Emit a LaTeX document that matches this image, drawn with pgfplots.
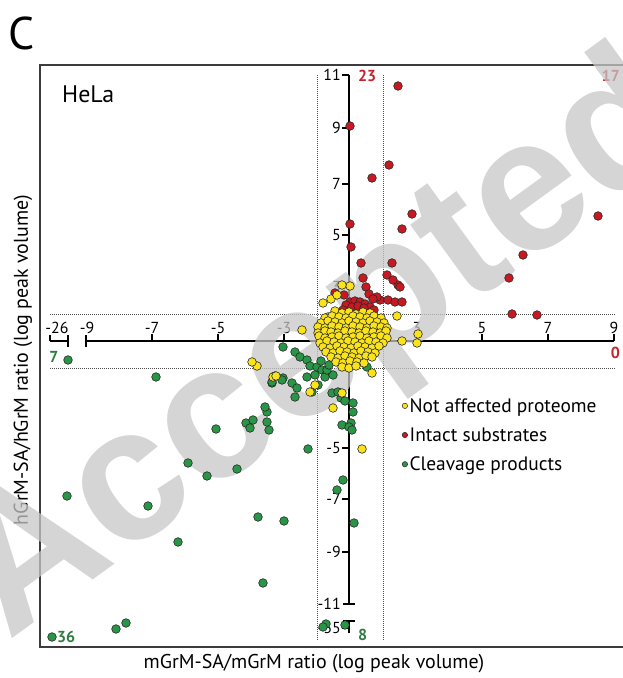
\documentclass[border=0pt]{standalone}
\usepackage{pgfplots}
\pgfplotsset{compat=1.18}
\usepackage{fontspec}
\setmainfont{PT Sans}
\newfontfamily\wmfont{Liberation Sans}
\definecolor{yel}{RGB}{250,228,25}
\definecolor{redpt}{RGB}{200,25,35}
\definecolor{grnpt}{RGB}{40,150,70}
\definecolor{lblred}{RGB}{195,35,45}
\definecolor{lblgrn}{RGB}{45,125,65}
\definecolor{frame}{RGB}{60,60,60}
\tikzset{
  tk/.style={line width=1.2bp},
  ax/.style={line width=1.4bp},
  dt/.style={gray!60!black, line width=0.9bp, dash pattern=on 0.9bp off 1.1bp},
  tl/.style={inner sep=1bp, font=\fontsize{16}{16}\selectfont},
  cnt/.style={inner sep=0pt, font=\bfseries\fontsize{16}{16}\selectfont},
}
\begin{document}
\begin{tikzpicture}
\begin{axis}[x=1bp,y=1bp,xmin=-349,xmax=274,ymin=-337,ymax=341,
  hide axis,clip=false,
  legend style={at={(axis cs:53,-55)},anchor=north west,draw=none,fill=none,
    font=\fontsize{19.5}{22}\selectfont,row sep=10bp,inner sep=0pt,
    /tikz/every even column/.append style={column sep=1bp}},
  legend cell align=left,
  legend image code/.code={\draw[#1] plot coordinates {(3bp,0bp)};},
  ]
\coordinate (BL) at (rel axis cs:0,0);
\coordinate (TR) at (rel axis cs:1,1);
% frame
\draw[line width=1.7bp, frame] (axis cs:276,-306) -- (axis cs:-309,-306) -- (axis cs:-309,276) -- (axis cs:276,276);
% dotted thresholds
\draw[dt] (axis cs:-32,266) -- (axis cs:-32,-299);
\draw[dt] (axis cs:34,266) -- (axis cs:34,-299);
\draw[dt] (axis cs:-299,27) -- (axis cs:266,27);
\draw[dt] (axis cs:-299,-27) -- (axis cs:266,-27);
% x axis
\draw[ax] (axis cs:-263,0) -- (axis cs:265,0);
\draw[ax] (axis cs:-263,-6) -- (axis cs:-263,6);
\draw[tk] (axis cs:-197,0) -- (axis cs:-197,7);
\draw[tk] (axis cs:-131,0) -- (axis cs:-131,7);
\draw[tk] (axis cs:-65,0) -- (axis cs:-65,7);
\draw[tk] (axis cs:68,0) -- (axis cs:68,7);
\draw[tk] (axis cs:133,0) -- (axis cs:133,7);
\draw[tk] (axis cs:199,0) -- (axis cs:199,7);
\draw[tk] (axis cs:265,0) -- (axis cs:265,7);
\draw[ax] (axis cs:-299,0) -- (axis cs:-281,0);
\draw[ax] (axis cs:-281,-6) -- (axis cs:-281,6);
\draw[tk] (axis cs:-299,0) -- (axis cs:-299,6);
\node[anchor=south, tl] at (axis cs:-292,6) {-26};
\node[anchor=south, tl] at (axis cs:-262,6) {-9};
\node[anchor=south, tl] at (axis cs:-197,6) {-7};
\node[anchor=south, tl] at (axis cs:-131,6) {-5};
\node[anchor=south, tl] at (axis cs:-65,6) {-3};
\node[anchor=south, tl] at (axis cs:68,6) {3};
\node[anchor=south, tl] at (axis cs:133,6) {5};
\node[anchor=south, tl] at (axis cs:199,6) {7};
\node[anchor=south, tl] at (axis cs:265,6) {9};
% y axis
\draw[ax] (axis cs:0,266) -- (axis cs:0,-263);
\draw[ax] (axis cs:-7,266) -- (axis cs:0,266);
\draw[ax] (axis cs:-6,-263) -- (axis cs:6,-263);
\draw[tk] (axis cs:-7,213) -- (axis cs:0,213);
\draw[tk] (axis cs:-7,157) -- (axis cs:0,157);
\draw[tk] (axis cs:-7,106) -- (axis cs:0,106);
\draw[tk] (axis cs:-7,54) -- (axis cs:0,54);
\draw[tk] (axis cs:-7,-107) -- (axis cs:0,-107);
\draw[tk] (axis cs:-7,-158) -- (axis cs:0,-158);
\draw[tk] (axis cs:-7,-211) -- (axis cs:0,-211);
\draw[ax] (axis cs:-6,-280) -- (axis cs:6,-280);
\draw[ax] (axis cs:0,-280) -- (axis cs:0,-292);
\draw[tk] (axis cs:-7,-287) -- (axis cs:0,-287);
\node[anchor=east, tl] at (axis cs:-7,266) {11};
\node[anchor=east, tl] at (axis cs:-7,213) {9};
\node[anchor=east, tl] at (axis cs:-7,157) {7};
\node[anchor=east, tl] at (axis cs:-7,106) {5};
\node[anchor=east, tl] at (axis cs:-7,54) {3};
\node[anchor=east, tl] at (axis cs:-7,-107) {-5};
\node[anchor=east, tl] at (axis cs:-7,-158) {-7};
\node[anchor=east, tl] at (axis cs:-7,-211) {-9};
\node[anchor=east, tl] at (axis cs:-7,-263) {-11};
\node[anchor=east, tl] at (axis cs:-7,-287) {-35};

% Cleavage products (green)
\addplot[only marks, mark=*, mark size=4.3bp, forget plot,
  mark options={fill=grnpt, draw=black!85, line width=0.6bp}] coordinates {
(-281,-19) (-193,-36) (-133,-88) (-161,-122) (-142,-135) (-112,-128)
(-282,-155) (-201,-165) (-171,-201) (-91,-176) (-65,-180) (-86,-242)
(-233,-288) (-223,-282) (-297,-296) (-41,-108)
(-82,-71) (-82,-81) (-80,-89) (-84,-66) (-103,-82) (-99,-87) (-96,-79)
(-77,-42) (-74,-35) (-66,-37) (-57,-42) (-52,-47) (-54,-56) (-42,-36)
(-66,-6) (-54,-11) (-49,-16) (-42,-19) (-39,-25) (-32,-26) (-27,-29)
(-22,-32) (-16,-34) (-34,-34) (18,-26) (-77,-41) (-67,-39) (-24,-36)
(-22,-29) (-17,-52) (-8,-57) (-4,-60) (4,-71) (2,-82) (-7,-84) (0,-86)
(3,-89) (4,-62) (-11,-51) (-6,-139) (-12,-149) (5,-182)
(-23,-283) (-26,-286) (-4,-284) (-31,-44) (-37,-51) (-28,-20) (-20,-24)
};
% Intact substrates (red)
\addplot[only marks, mark=*, mark size=4.3bp, forget plot,
  mark options={fill=redpt, draw=black!85, line width=0.6bp}] coordinates {
(49,255) (1,215) (40,176) (23,163) (1,117) (2,94) (12,78) (14,63) (17,54)
(38,66) (49,56) (51,54) (44,61) (63,127) (53,112) (31,41) (39,41) (46,39)
(53,39) (43,78) (28,44) (163,27) (188,26) (249,125) (160,63) (174,86)
(1,39) (6,40) (11,39) (16,37) (21,34) (25,31) (-3,36) (3,34) (9,35)
(15,33) (-6,31) (-14,48) (-5,46) (20,47) (24,42)
};
% Not affected proteome (yellow)
\addplot[only marks, mark=*, mark size=4.3bp, forget plot,
  mark options={fill=yel, draw=black!85, line width=0.6bp}] coordinates {
(1,55) (-7,56) (-21,24) (48,25) (69,7) (68,-2) (53,0) (-47,11) (-92,-25)
(-97,-21) (-76,-36) (-73,-35) (-39,-51) (-34,-44) (-16,-67) (13,-108)
(-7,-52) (6,-21) (23,-32)
(-18,42) (-12,46) (-26,38)
(-14,30) (-7,28) (0,29) (7,27) (14,29) (21,28)
(-24,23) (-17,25) (-10,24) (-3,23) (4,25) (11,24) (18,23) (25,25) (32,23)
(-28,18) (-21,20) (-14,19) (-7,18) (0,20) (7,19) (14,18) (21,20) (28,19) (35,18)
(-31,14) (-24,13) (-17,15) (-10,14) (-3,13) (4,15) (11,14) (18,13) (25,15) (32,14) (38,13)
(-31,8) (-24,10) (-18,9) (-11,8) (-4,10) (3,9) (10,8) (17,10) (24,9) (31,8) (37,10)
(-30,5) (-24,3) (-17,4) (-10,5) (-3,3) (4,4) (11,5) (18,3) (25,4) (32,5) (38,3)
(-29,-2) (-22,0) (-15,-1) (-8,-2) (-1,0) (6,-1) (13,-2) (20,0) (27,-1) (34,-2)
(-26,-6) (-19,-7) (-12,-5) (-5,-6) (2,-7) (9,-5) (16,-6) (23,-7) (30,-5)
(-23,-11) (-16,-12) (-9,-10) (-2,-11) (5,-12) (12,-10) (19,-11) (26,-12)
(-18,-16) (-11,-17) (-4,-15) (3,-16) (10,-17) (17,-15) (23,-16)
(-13,-21) (-6,-22) (1,-20) (8,-21) (15,-22)
(-7,-26) (0,-27) (7,-25)
};
% legend entries
\addlegendimage{only marks, mark=*, mark size=2.7bp, mark options={fill=yel, draw=black!85, line width=0.5bp}}
\addlegendentry{Not affected proteome}
\addlegendimage{only marks, mark=*, mark size=2.7bp, mark options={fill=redpt, draw=black!85, line width=0.5bp}}
\addlegendentry{Intact substrates}
\addlegendimage{only marks, mark=*, mark size=2.7bp, mark options={fill=grnpt, draw=black!85, line width=0.5bp}}
\addlegendentry{Cleavage products}

% count labels
\node[anchor=west, text=lblred, cnt] at (axis cs:9,265) {23};
\node[anchor=east, text=lblred, cnt] at (axis cs:271,265) {17};
\node[anchor=east, text=lblred, cnt] at (axis cs:271,-12) {0};
\node[anchor=center, text=lblgrn, cnt] at (axis cs:-295,-16) {7};
\node[anchor=west, text=lblgrn, cnt] at (axis cs:-292,-296) {36};
\node[anchor=west, text=lblgrn, cnt] at (axis cs:9,-294) {8};

% texts
\node[anchor=base west, inner sep=0pt, font=\fontsize{24}{24}\selectfont] at (axis cs:-287,238) {HeLa};
\node[anchor=base west, inner sep=0pt, font=\fontsize{46}{46}\selectfont] at (axis cs:-341,291) {C};
\node[anchor=center, inner sep=0pt, font=\fontsize{20}{20}\selectfont] at (axis cs:-35,-323) {mGrM-SA/mGrM ratio (log peak volume)};
\node[anchor=center, rotate=90, inner sep=0pt, font=\fontsize{20}{20}\selectfont] at (axis cs:-326,-19) {hGrM-SA/hGrM ratio (log peak volume)};

% watermark
\begin{scope}
\clip (rel axis cs:0,0) rectangle (rel axis cs:1,1);
\node[rotate=36, text=black!22, opacity=0.75, inner sep=0pt, font=\wmfont\bfseries\fontsize{190}{190}\selectfont] at (axis cs:-25,-10) {Accepted};
\end{scope}
\end{axis}
\pgfresetboundingbox
\path[use as bounding box] (BL) rectangle (TR);
\end{tikzpicture}
\end{document}
